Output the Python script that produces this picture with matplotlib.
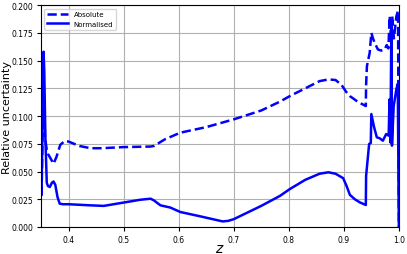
import matplotlib
matplotlib.use("Agg")
import matplotlib.pyplot as plt
import numpy as np

z_abs = [0.351, 0.3545, 0.3575, 0.361, 0.3625, 0.366, 0.3728, 0.378, 0.385, 0.393, 0.400,
         0.41, 0.42, 0.44, 0.46, 0.50, 0.549, 0.555, 0.575, 0.603, 0.65, 0.70, 0.75, 0.784,
         0.802, 0.83, 0.856, 0.872, 0.885, 0.896, 0.904, 0.911, 0.925, 0.94, 0.9405, 0.942,
         0.947, 0.950, 0.953, 0.956, 0.962, 0.968, 0.974, 0.978, 0.981, 0.9833, 0.9855,
         0.988, 0.991, 0.9955, 0.9985, 1.0]
abs_unc = [0.029, 0.125, 0.080, 0.068, 0.066, 0.063, 0.057, 0.063, 0.074, 0.0775, 0.077,
           0.075, 0.073, 0.071, 0.071, 0.072, 0.0725, 0.073, 0.079, 0.085, 0.090, 0.097, 0.105,
           0.113, 0.118, 0.125, 0.1315, 0.133, 0.1325, 0.128, 0.122, 0.118, 0.113, 0.109, 0.128,
           0.145, 0.157, 0.175, 0.170, 0.166, 0.160, 0.159, 0.160, 0.164, 0.161, 0.190, 0.172,
           0.190, 0.170, 0.190, 0.195, 0.0]

z_norm = [0.351, 0.3535, 0.3547, 0.356, 0.358, 0.3605, 0.3625, 0.366, 0.370, 0.3728, 0.376,
          0.380, 0.384, 0.39, 0.40, 0.42, 0.44, 0.464, 0.50, 0.53, 0.549, 0.555, 0.567, 0.585,
          0.603, 0.64, 0.68, 0.69, 0.70, 0.75, 0.784, 0.802, 0.83, 0.856, 0.872, 0.885, 0.8988,
          0.905, 0.911, 0.92, 0.929, 0.94, 0.9405, 0.946, 0.949, 0.950, 0.955, 0.960, 0.965,
          0.971, 0.977, 0.9815, 0.983, 0.9846, 0.9864, 0.9875, 0.9906, 0.9955, 0.998, 1.0]
norm_unc = [0.029, 0.120, 0.158, 0.140, 0.080, 0.040, 0.037, 0.036, 0.040, 0.041, 0.038,
            0.027, 0.021, 0.0205, 0.0205, 0.020, 0.0195, 0.019, 0.022, 0.0245, 0.0255, 0.024,
            0.0195, 0.0175, 0.0135, 0.0095, 0.005, 0.0055, 0.007, 0.019, 0.028, 0.0342, 0.0425,
            0.048, 0.0493, 0.048, 0.044, 0.037, 0.029, 0.025, 0.0222, 0.0198, 0.046, 0.0748,
            0.0757, 0.1018, 0.090, 0.0808, 0.080, 0.0778, 0.0838, 0.0823, 0.115, 0.0763, 0.181,
            0.0733, 0.109, 0.1243, 0.129, 0.0]

xticks = [0.4, 0.5, 0.6, 0.7, 0.8, 0.9, 1.0]
yticks = [0.000, 0.025, 0.050, 0.075, 0.100, 0.125, 0.150, 0.175, 0.200]

fig = plt.figure(figsize=(4.07, 2.55), dpi=100)
ax = fig.add_axes([0.1007, 0.106, 0.8793, 0.870])
ax.plot(z_abs, abs_unc, color="blue", linestyle="--", linewidth=1.8, label="Absolute")
ax.plot(z_norm, norm_unc, color="blue", linestyle="-", linewidth=1.8, label="Normalised")
ax.set_xlim(0.35, 1.0)
ax.set_ylim(0.0, 0.2)
ax.set_xticks(xticks)
ax.set_xticklabels([f"{t:.1f}" for t in xticks])
ax.set_yticks(yticks)
ax.set_yticklabels([f"{t:.3f}" for t in yticks])
ax.tick_params(labelsize=5.5, length=3, width=0.8, pad=2.5)
ax.grid(True, color="#b0b0b0", linewidth=0.8)
ax.set_axisbelow(True)
ax.set_xlabel("$z$", fontsize=10)
ax.xaxis.set_label_coords(0.5, -0.065)
ax.set_ylabel("Relative uncertainty", fontsize=8)
ax.yaxis.set_label_coords(-0.08, 0.5)
ax.legend(loc="upper left", fontsize=5, handlelength=3.0, framealpha=0.8,
          borderpad=0.4, labelspacing=0.5)
fig.savefig("out.png", dpi=100)
